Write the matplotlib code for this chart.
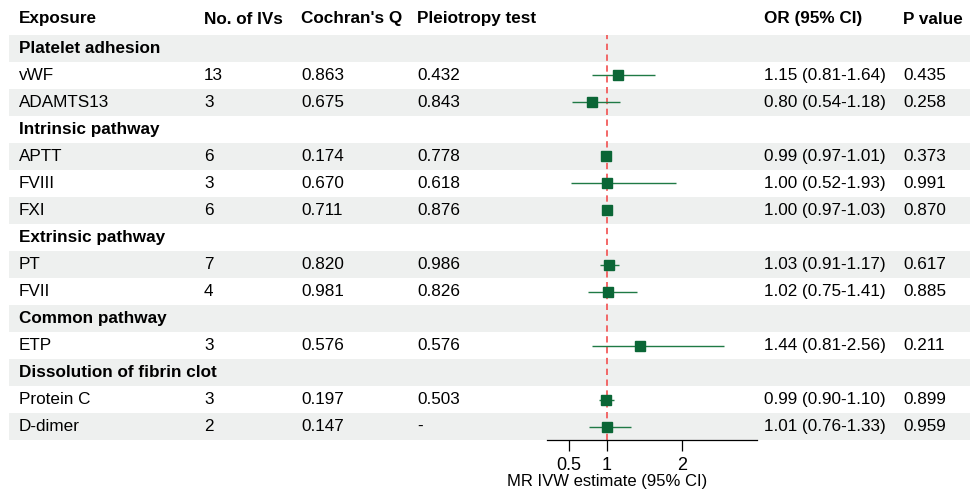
import numpy as np
import matplotlib.pyplot as plt

plt.rcParams['font.family'] = ['Liberation Sans', 'DejaVu Sans']

# 数据
groups = ['Platelet adhesion', 'Intrinsic pathway', 'Extrinsic pathway',
          'Common pathway', 'Dissolution of fibrin clot']
exposures = ['vWF', 'ADAMTS13', 'APTT', 'FVIII', 'FXI', 'PT', 'FVII', 'ETP',
             'Protein C', 'D-dimer']
group_of = [0, 0, 1, 1, 1, 2, 2, 3, 4, 4]
n_ivs = [13, 3, 6, 3, 6, 7, 4, 3, 3, 2]
cochran_q = ['0.863', '0.675', '0.174', '0.670', '0.711', '0.820', '0.981',
             '0.576', '0.197', '0.147']
pleio = ['0.432', '0.843', '0.778', '0.618', '0.876', '0.986', '0.826',
         '0.576', '0.503', '-']
or_est = [1.15, 0.80, 0.99, 1.00, 1.00, 1.03, 1.02, 1.44, 0.99, 1.01]
ci_low = [0.81, 0.54, 0.97, 0.52, 0.97, 0.91, 0.75, 0.81, 0.90, 0.76]
ci_high = [1.64, 1.18, 1.01, 1.93, 1.03, 1.17, 1.41, 2.56, 1.10, 1.33]
p_value = ['0.435', '0.258', '0.373', '0.991', '0.870', '0.617', '0.885',
           '0.211', '0.899', '0.959']
headers = ['Exposure', 'No. of IVs', "Cochran's Q", 'Pleiotropy test',
           'OR (95% CI)', 'P value']
xticks = [0.5, 1, 2]

# 行的排列：组标题 + 各暴露
rows = []
for g, name in enumerate(groups):
    rows.append(('group', g))
    for i in range(len(exposures)):
        if group_of[i] == g:
            rows.append(('item', i))
n_rows = len(rows)

W, H = 971, 490
fig = plt.figure(figsize=(W / 100, H / 100), dpi=100)
ax0 = fig.add_axes([0, 0, 1, 1])
ax0.set_xlim(0, W)
ax0.set_ylim(H, 0)
ax0.axis('off')

top, rh = 35, 27
col_x = [19, 204, 301, 417, 764, 903]
fs = 12.3
band = '#EEF0EF'

for j, h in enumerate(headers):
    ax0.text(col_x[j], 19, h, fontsize=fs, fontweight='bold', va='center')

ypos = {}
for r, (kind, idx) in enumerate(rows):
    yc = top + rh * (r + 0.5)
    if r % 2 == 0:
        ax0.axhspan(top + rh * r, top + rh * (r + 1), xmin=9 / W, xmax=970 / W,
                    color=band, lw=0, zorder=0)
    if kind == 'group':
        ax0.text(col_x[0], yc, groups[idx], fontsize=fs, fontweight='bold', va='center')
    else:
        ypos[idx] = r
        vals = [exposures[idx], str(n_ivs[idx]), cochran_q[idx], pleio[idx],
                '%.2f (%.2f-%.2f)' % (or_est[idx], ci_low[idx], ci_high[idx]),
                p_value[idx]]
        for j, v in enumerate(vals):
            ax0.text(col_x[j], yc, v, fontsize=fs, va='center')

# 森林图
x0, x1 = 546.7, 756.7
ax_h = rh * n_rows
ax = fig.add_axes([x0 / W, (H - top - ax_h) / H, (x1 - x0) / W, ax_h / H])
ax.patch.set_alpha(0)
ax.set_xlim(0.2, 3)
ax.set_ylim(n_rows - 0.5, -0.5)
for s in ['left', 'top', 'right']:
    ax.spines[s].set_visible(False)
ax.spines['bottom'].set_linewidth(0.9)
ax.set_yticks([])
ax.set_xticks(xticks)
ax.set_xticklabels(['0.5', '1', '2'])
ax.tick_params(axis='x', length=8, width=0.9, labelsize=13, pad=4)
ax.set_xlabel('MR IVW estimate (95% CI)', fontsize=12)
ax.xaxis.set_label_coords(0.29, -34 / ax_h)
ax.xaxis.label.set_va('top')

ax.axvline(1, color='#F25C5C', ls=(0, (3.5, 2.5)), lw=1.3, zorder=1)
ys = [ypos[i] for i in range(len(exposures))]
ax.hlines(ys, ci_low, ci_high, color='#1F7A45', lw=1.0, zorder=2)
ax.plot(or_est, ys, 's', color='#0B6636', ms=6.5, zorder=3)

fig.savefig('out.png', dpi=100)
